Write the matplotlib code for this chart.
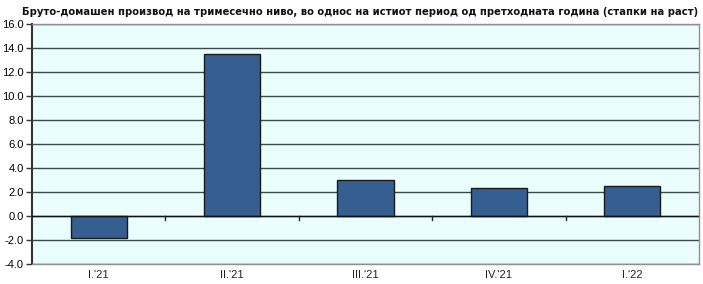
import matplotlib
matplotlib.use("Agg")
import matplotlib.pyplot as plt

categories = ["I.'21", "II.'21", "III.'21", "IV.'21", "I.'22"]
values = [-1.8, 13.5, 3.0, 2.3, 2.5]
yticks = [-4.0, -2.0, 0.0, 2.0, 4.0, 6.0, 8.0, 10.0, 12.0, 14.0, 16.0]
title = "Бруто-домашен производ на тримесечно ниво, во однос на истиот период од претходната година (стапки на раст)"

plt.rcParams['font.family'] = ['Liberation Sans', 'DejaVu Sans']

fig = plt.figure(figsize=(7.03, 2.84), dpi=100)
ax = fig.add_axes([32/703, 20/284, 667/703, 240/284])
ax.set_facecolor('#EBFEFE')

x = list(range(len(categories)))
ax.bar(x, values, width=0.42, color='#355F91', edgecolor='#1a1a1a', linewidth=1.0, zorder=3)

ax.set_xlim(-0.5, len(categories) - 0.5)
ax.set_ylim(-4, 16)
ax.set_yticks(yticks)
ax.set_yticklabels([f"{v:.1f}" for v in yticks], fontsize=8)
ax.yaxis.grid(True, color='#3a4a4a', linewidth=1.0, zorder=1)
ax.set_xticks(x)
ax.set_xticklabels(categories, fontsize=8, color='#222222')
ax.tick_params(axis='x', length=0, pad=4)
ax.tick_params(axis='y', length=4, width=1, color='#333333', pad=2)

ax.axhline(0, color='#111111', linewidth=1.0, zorder=4)
for b in [i + 0.5 for i in range(len(categories) - 1)]:
    ax.plot([b, b], [0, -0.3], color='#222222', linewidth=1.0, zorder=4, clip_on=False)

for s in ['top', 'right', 'bottom']:
    ax.spines[s].set_color('#909090')
    ax.spines[s].set_linewidth(1.0)
ax.spines['left'].set_color('#333333')
ax.spines['left'].set_linewidth(1.5)

fig.text(360/703, 0.975, title, ha='center', va='top', fontsize=8.03, fontweight='bold',
         color='#111111', family=['DejaVu Sans'], fontstretch='condensed')

fig.savefig("out.png", dpi=100)
